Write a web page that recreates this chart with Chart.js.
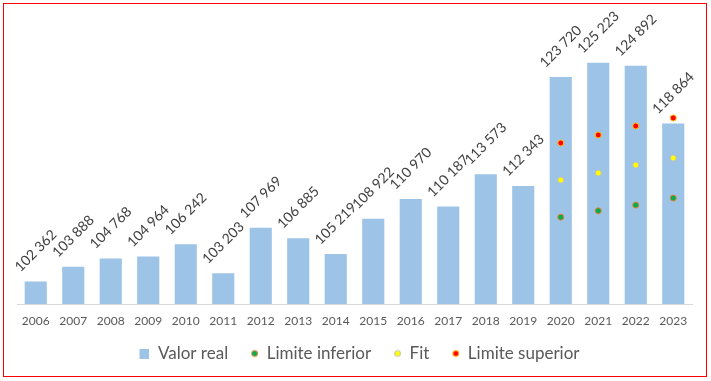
<!DOCTYPE html>
<html>
<head>
<meta charset="utf-8">
<script src="https://cdn.jsdelivr.net/npm/chart.js@4/dist/chart.umd.min.js"></script>
<style>
  html, body { margin: 0; padding: 0; background: #fff; }
  #wrap { position: relative; width: 711px; height: 381px; }
  #frame { position: absolute; left: 3px; top: 3px; width: 702px; height: 372px; border: 1px solid #ff0000; pointer-events: none; }
  canvas { position: absolute; left: 0; top: 0; }
</style>
</head>
<body>
<div id="wrap">
  <canvas id="chart" width="711" height="381"></canvas>
  <div id="frame"></div>
</div>
<script>
const years = ["2006", "2007", "2008", "2009", "2010", "2011", "2012", "2013", "2014", "2015", "2016", "2017", "2018", "2019", "2020", "2021", "2022", "2023"];
const valorReal = [102362, 103888, 104768, 104964, 106242, 103203, 107969, 106885, 105219, 108922, 110970, 110187, 113573, 112343, 123720, 125223, 124892, 118864];
const limiteInferior = [null, null, null, null, null, null, null, null, null, null, null, null, null, null, 109080, 109740, 110340, 111070];
const fit = [null, null, null, null, null, null, null, null, null, null, null, null, null, null, 112950, 113690, 114520, 115260];
const limiteSuperior = [null, null, null, null, null, null, null, null, null, null, null, null, null, null, 116830, 117670, 118610, 119450];

const FONT = "Lato, 'Open Sans', sans-serif";
const BOTTOM_PAD = 9;
const AXIS_Y = 304;
const ICON_W = 20;

function fmt(v) {
  return String(v).replace(/\B(?=(\d{3})+(?!\d))/g, " ");
}

// rotated value labels above the bars
const barLabels = {
  id: "barLabels",
  afterDatasetsDraw(chart) {
    const ctx = chart.ctx;
    const meta = chart.getDatasetMeta(3);
    ctx.save();
    ctx.font = "14px " + FONT;
    ctx.fillStyle = "#404040";
    ctx.textAlign = "center";
    ctx.textBaseline = "middle";
    meta.data.forEach((bar, i) => {
      const txt = fmt(valorReal[i]);
      const w = ctx.measureText(txt).width;
      const cy = bar.y - 8 - (w / 2) * Math.SQRT1_2 - 4;
      ctx.save();
      ctx.translate(bar.x, cy);
      ctx.rotate(-Math.PI / 4);
      ctx.fillText(txt, 0, 0);
      ctx.restore();
    });
    ctx.restore();
  }
};

// legend icons, with empty room on the left so the items sit apart like the original
function icon(kind, fill, border) {
  const c = document.createElement("canvas");
  c.width = ICON_W; c.height = 10;
  const g = c.getContext("2d");
  if (kind === "rect") {
    g.fillStyle = fill;
    g.fillRect(ICON_W - 10, 0, 10, 10);
  } else {
    g.beginPath();
    g.arc(ICON_W - 3.5, 5, 3, 0, Math.PI * 2);
    g.fillStyle = fill;
    g.fill();
    g.lineWidth = 1;
    g.strokeStyle = border;
    g.stroke();
  }
  return c;
}

const legendIcons = [
  icon("rect", "#9dc3e6"),
  icon("dot", "#00b050", "#ed7d31"),
  icon("dot", "#ffff00", "#bfbfbf"),
  icon("dot", "#ff0000", "#ffc000")
];

const dotSet = (label, data, fill, border) => ({
  type: "line",
  label: label,
  data: data,
  showLine: false,
  pointRadius: 3,
  pointHoverRadius: 3,
  pointBorderWidth: 1,
  pointBackgroundColor: fill,
  pointBorderColor: border,
  backgroundColor: fill,
  borderColor: border
});

new Chart(document.getElementById("chart"), {
  type: "bar",
  data: {
    labels: years,
    datasets: [
      dotSet("Limite inferior", limiteInferior, "#00b050", "#ed7d31"),
      dotSet("Fit", fit, "#ffff00", "#bfbfbf"),
      dotSet("Limite superior", limiteSuperior, "#ff0000", "#ffc000"),
      {
        label: "Valor real",
        data: valorReal,
        backgroundColor: "#9dc3e6",
        barPercentage: 1,
        categoryPercentage: 0.59,
        order: 10
      }
    ]
  },
  options: {
    responsive: false,
    animation: false,
    layout: { padding: { left: 17, right: 19, top: 17, bottom: BOTTOM_PAD } },
    scales: {
      x: {
        grid: { display: false, drawTicks: false },
        border: { color: "#d9d9d9", width: 1 },
        ticks: { color: "#595959", font: { family: FONT, size: 12 }, padding: 10, maxRotation: 0 },
        afterFit(scale) {
          // pin the axis line where the reference has it
          scale.height = 381 - BOTTOM_PAD - scale.chart.legend.height - AXIS_Y;
        }
      },
      y: { display: false, min: 100000, max: 130000 }
    },
    plugins: {
      tooltip: { enabled: false },
      legend: {
        position: "bottom",
        labels: {
          usePointStyle: true,
          pointStyleWidth: ICON_W,
          boxHeight: 11,
          padding: 10,
          color: "#595959",
          font: { family: FONT, size: 17 },
          generateLabels(chart) {
            const base = Chart.defaults.plugins.legend.labels.generateLabels(chart);
            const order = ["Valor real", "Limite inferior", "Fit", "Limite superior"];
            return order.map((name, k) => {
              const it = base.find(b => b.text === name);
              it.pointStyle = legendIcons[k];
              return it;
            });
          }
        }
      }
    }
  },
  plugins: [barLabels]
});
</script>
</body>
</html>
